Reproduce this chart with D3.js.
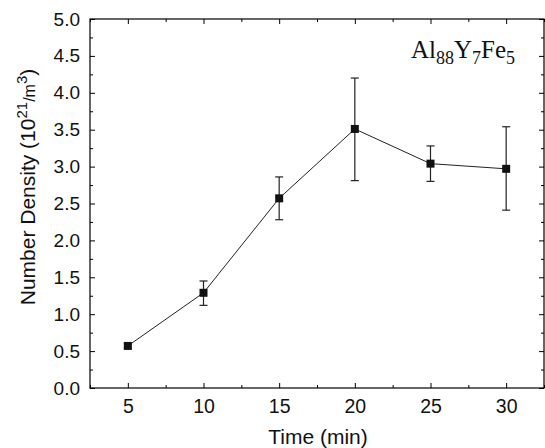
<!DOCTYPE html>
<html><head><meta charset="utf-8">
<script src="https://cdn.jsdelivr.net/npm/d3@7"></script>
<style>body{margin:0;background:#fff}svg{display:block}</style>
</head><body>
<svg id="c" width="545" height="448"></svg>
<script>
const times = [5, 10, 15, 20, 25, 30];
const density = [0.57, 1.29, 2.57, 3.51, 3.04, 2.97];
const errLow = [0.03, 0.17, 0.29, 0.70, 0.24, 0.56];
const errHigh = [0.03, 0.16, 0.29, 0.69, 0.24, 0.57];
const xTicks = [5, 10, 15, 20, 25, 30];
const yTicks = [0, 0.5, 1, 1.5, 2, 2.5, 3, 3.5, 4, 4.5, 5];

const svg = d3.select("#c");
const L = 90, R = 544, T = 19, B = 388;
const x = d3.scaleLinear().domain([2.5, 32.5]).range([L, R]);
const y = d3.scaleLinear().domain([0, 5]).range([B, T]);
const sans = "'Liberation Sans', Arial, sans-serif";

const xMinor = d3.range(2.5, 32.6, 2.5).filter(v => v % 5 !== 0);
const yMinor = d3.range(0.25, 5, 0.5);

function axisStyle(g){ g.select(".domain").remove(); g.selectAll("line").attr("stroke","#000").attr("stroke-width",1); }

svg.append("g").attr("transform",`translate(0,${B})`)
  .call(d3.axisBottom(x).tickValues(xTicks).tickSizeInner(-5).tickSizeOuter(0).tickPadding(11).tickFormat(d3.format("d")))
  .call(axisStyle)
  .call(g=>g.selectAll("text").attr("font-family",sans).attr("font-size",19.5).attr("fill","#111"));
svg.append("g").attr("transform",`translate(0,${B})`)
  .call(d3.axisBottom(x).tickValues(xMinor).tickSizeInner(-3).tickSizeOuter(0).tickFormat(""))
  .call(axisStyle);
svg.append("g").attr("transform",`translate(0,${T})`)
  .call(d3.axisTop(x).tickValues(xTicks).tickSizeInner(-5).tickSizeOuter(0).tickFormat(""))
  .call(axisStyle);
svg.append("g").attr("transform",`translate(0,${T})`)
  .call(d3.axisTop(x).tickValues(xMinor).tickSizeInner(-3).tickSizeOuter(0).tickFormat(""))
  .call(axisStyle);
svg.append("g").attr("transform",`translate(${L},0)`)
  .call(d3.axisLeft(y).tickValues(yTicks).tickSizeInner(-5).tickSizeOuter(0).tickPadding(10).tickFormat(d3.format(".1f")))
  .call(axisStyle)
  .call(g=>g.selectAll("text").attr("font-family",sans).attr("font-size",19).attr("fill","#111"));
svg.append("g").attr("transform",`translate(${L},0)`)
  .call(d3.axisLeft(y).tickValues(yMinor).tickSizeInner(-3).tickSizeOuter(0).tickFormat(""))
  .call(axisStyle);
svg.append("g").attr("transform",`translate(${R},0)`)
  .call(d3.axisRight(y).tickValues(yTicks).tickSizeInner(-5).tickSizeOuter(0).tickFormat(""))
  .call(axisStyle);
svg.append("g").attr("transform",`translate(${R},0)`)
  .call(d3.axisRight(y).tickValues(yMinor).tickSizeInner(-3).tickSizeOuter(0).tickFormat(""))
  .call(axisStyle);

svg.append("rect").attr("x",L).attr("y",T).attr("width",R-L).attr("height",B-T)
  .attr("fill","none").attr("stroke","#000").attr("stroke-width",1.2);

const data = times.map((t,i)=>({t, v:density[i], lo:density[i]-errLow[i], hi:density[i]+errHigh[i]}));

const eb = svg.append("g").attr("stroke","#222").attr("stroke-width",1.2);
data.forEach(d=>{
  eb.append("line").attr("x1",x(d.t)).attr("x2",x(d.t)).attr("y1",y(d.lo)).attr("y2",y(d.hi));
  eb.append("line").attr("x1",x(d.t)-4).attr("x2",x(d.t)+4).attr("y1",y(d.lo)).attr("y2",y(d.lo));
  eb.append("line").attr("x1",x(d.t)-4).attr("x2",x(d.t)+4).attr("y1",y(d.hi)).attr("y2",y(d.hi));
});

svg.append("path").datum(data)
  .attr("d", d3.line().x(d=>x(d.t)).y(d=>y(d.v)))
  .attr("fill","none").attr("stroke","#222").attr("stroke-width",1);

svg.append("g").selectAll("rect").data(data).join("rect")
  .attr("x",d=>x(d.t)-4).attr("y",d=>y(d.v)-4).attr("width",8).attr("height",8)
  .attr("fill","#111");

svg.append("text").attr("x",318).attr("y",444).attr("text-anchor","middle")
  .attr("font-family",sans).attr("font-size",21).attr("fill","#111").text("Time (min)");

const yl = svg.append("text").attr("transform",`translate(35,187) rotate(-90)`).attr("text-anchor","middle")
  .attr("font-family",sans).attr("font-size",21).attr("fill","#111");
yl.append("tspan").text("Number Density (10");
yl.append("tspan").attr("font-size",15).attr("dy",-8).text("21");
yl.append("tspan").attr("font-size",16).attr("dy",8).text("/m");
yl.append("tspan").attr("font-size",15).attr("dy",-8).text("3");
yl.append("tspan").attr("dy",8).text(")");

const serif = "'Liberation Serif', 'Times New Roman', serif";
const lab = svg.append("text").attr("x",515).attr("y",58).attr("text-anchor","end")
  .attr("font-family",serif).attr("font-size",25).attr("fill","#111");
lab.append("tspan").text("Al");
lab.append("tspan").attr("font-size",18).attr("dy",6).text("88");
lab.append("tspan").attr("dy",-6).text("Y");
lab.append("tspan").attr("font-size",18).attr("dy",6).text("7");
lab.append("tspan").attr("dy",-6).text("Fe");
lab.append("tspan").attr("font-size",18).attr("dy",6).text("5");
</script>
</body></html>
